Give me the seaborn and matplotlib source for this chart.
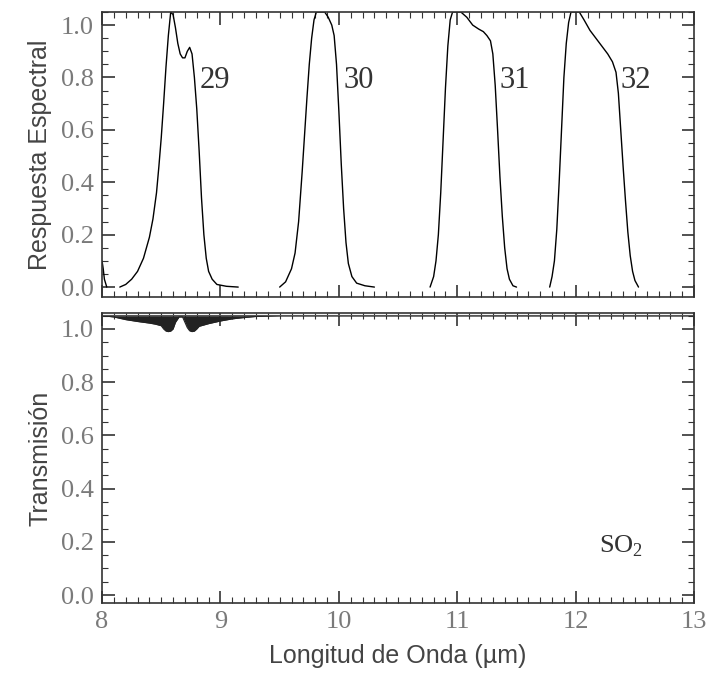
import matplotlib
matplotlib.use("Agg")
import matplotlib.pyplot as plt
from matplotlib.ticker import MultipleLocator
import seaborn as sns
import pandas as pd

# bandas MODIS 28-32, respuesta espectral
wl_28 = [8.0, 8.01, 8.02, 8.04]
resp_28 = [0.10, 0.07, 0.03, 0.0]

wl_29 = [8.15, 8.2, 8.25, 8.3, 8.35, 8.4, 8.43, 8.46, 8.48, 8.5, 8.52, 8.54, 8.56, 8.58,
         8.6, 8.62, 8.64, 8.66, 8.68, 8.7, 8.72, 8.74, 8.76, 8.78, 8.8, 8.82, 8.84,
         8.86, 8.88, 8.9, 8.93, 8.97, 9.05, 9.15]
resp_29 = [0.0, 0.01, 0.03, 0.06, 0.11, 0.19, 0.26, 0.36, 0.46, 0.57, 0.7, 0.84, 0.96, 1.05,
           1.04, 0.99, 0.93, 0.89, 0.875, 0.875, 0.9, 0.915, 0.89, 0.8, 0.68, 0.52, 0.34,
           0.2, 0.11, 0.06, 0.03, 0.01, 0.003, 0.0]

wl_30 = [9.5, 9.55, 9.6, 9.63, 9.66, 9.69, 9.71, 9.73, 9.75, 9.77, 9.79, 9.81, 9.88,
         9.91, 9.94, 9.96, 9.98, 10.0, 10.02, 10.04, 10.06, 10.08, 10.11, 10.15, 10.22, 10.3]
resp_30 = [0.0, 0.02, 0.07, 0.13, 0.25, 0.44, 0.58, 0.72, 0.85, 0.95, 1.02, 1.05, 1.05,
           1.03, 1.0, 0.96, 0.85, 0.67, 0.47, 0.3, 0.17, 0.09, 0.04, 0.015, 0.005, 0.0]

wl_31 = [10.77, 10.8, 10.82, 10.84, 10.86, 10.88, 10.9, 10.92, 10.94, 10.96, 11.03, 11.08,
         11.13, 11.18, 11.22, 11.25, 11.28, 11.3, 11.32, 11.34, 11.36, 11.38, 11.4, 11.42,
         11.44, 11.47, 11.5]
resp_31 = [0.0, 0.04, 0.1, 0.2, 0.36, 0.56, 0.76, 0.92, 1.02, 1.05, 1.05, 1.03,
           1.0, 0.985, 0.975, 0.96, 0.94, 0.89, 0.77, 0.6, 0.42, 0.27, 0.15, 0.07,
           0.03, 0.005, 0.0]

wl_32 = [11.78, 11.8, 11.82, 11.84, 11.86, 11.88, 11.9, 11.92, 11.94, 11.96, 12.03, 12.07,
         12.12, 12.17, 12.22, 12.27, 12.31, 12.34, 12.36, 12.38, 12.4, 12.42, 12.44, 12.46,
         12.48, 12.5, 12.53]
resp_32 = [0.0, 0.04, 0.1, 0.22, 0.4, 0.6, 0.8, 0.93, 1.01, 1.05, 1.05, 1.02,
           0.98, 0.95, 0.92, 0.89, 0.86, 0.82, 0.74, 0.6, 0.46, 0.33, 0.21, 0.12,
           0.06, 0.025, 0.0]

band_names = ["29", "30", "31", "32"]
label_x = [8.82, 10.04, 11.36, 12.38]
label_y = [0.79, 0.79, 0.79, 0.79]

# transmision SO2
wl_so2 = [8.0, 8.1, 8.2, 8.3, 8.4, 8.45, 8.5, 8.52, 8.54, 8.56, 8.58, 8.6, 8.62, 8.65,
          8.68, 8.7, 8.72, 8.74, 8.76, 8.78, 8.8, 8.82, 8.86, 8.9, 9.0, 9.1, 9.2, 9.3,
          9.5, 13.0]
trans_so2 = [1.05, 1.045, 1.035, 1.028, 1.022, 1.018, 1.012, 1.0, 0.992, 0.99, 0.992, 1.0,
             1.025, 1.045, 1.045, 1.025, 1.005, 0.993, 0.99, 0.992, 1.0, 1.01, 1.015,
             1.02, 1.03, 1.038, 1.043, 1.047, 1.049, 1.049]

sns.set_style("ticks")
plt.rcParams['font.family'] = ['Liberation Sans', 'DejaVu Sans']
plt.rcParams['mathtext.fontset'] = 'custom'
plt.rcParams['mathtext.rm'] = 'Liberation Serif'

fig = plt.figure(figsize=(7.1, 6.94), dpi=100)
ax1 = fig.add_axes([0.1437, 0.572, 0.834, 0.4107])
ax2 = fig.add_axes([0.1437, 0.1311, 0.834, 0.4179])

bands = [(wl_28, resp_28), (wl_29, resp_29), (wl_30, resp_30), (wl_31, resp_31), (wl_32, resp_32)]
for wl, resp in bands:
    df = pd.DataFrame({"wl": wl, "resp": resp})
    sns.lineplot(data=df, x="wl", y="resp", ax=ax1, color="black", lw=1.0)

for name, x, y in zip(band_names, label_x, label_y):
    ax1.text(x, y, name, fontsize=22, family="Liberation Serif", color="#333333",
             va="center", ha="left")

df_so2 = pd.DataFrame({"wl": wl_so2, "t": trans_so2})
ax2.fill_between(df_so2["wl"], df_so2["t"], 1.05, color="#222222", lw=0)
sns.lineplot(data=df_so2, x="wl", y="t", ax=ax2, color="#222222", lw=0.8)
ax2.axhline(1.052, color="#555555", lw=0.8)
ax2.text(12.2, 0.16, r"SO$_\mathrm{2}$", fontsize=19, family="Liberation Serif", color="#333333")

ax1.set_ylim(-0.038, 1.05)
ax2.set_ylim(-0.03, 1.06)

for ax in (ax1, ax2):
    ax.set_xlim(8, 13)
    ax.xaxis.set_major_locator(MultipleLocator(1))
    ax.xaxis.set_minor_locator(MultipleLocator(0.1))
    ax.yaxis.set_major_locator(MultipleLocator(0.2))
    ax.yaxis.set_minor_locator(MultipleLocator(0.05))
    ax.tick_params(which="both", direction="in", top=True, right=True, color="#333333")
    ax.tick_params(which="major", length=9, width=1.2)
    ax.tick_params(which="minor", length=4, width=0.8)
    ax.tick_params(axis="both", labelsize=19, labelcolor="#7a7a7a", pad=6)
    for lab in ax.get_xticklabels() + ax.get_yticklabels():
        lab.set_family("Liberation Serif")
    for s in ax.spines.values():
        s.set_linewidth(1.2)
        s.set_color("#333333")
    ax.set_xlabel("")
    ax.set_ylabel("")

ax1.tick_params(axis="x", labelbottom=False)
ax1.set_ylabel("Respuesta Espectral", fontsize=18, color="#444444", labelpad=6)
ax2.set_ylabel("Transmisión", fontsize=18, color="#444444", labelpad=6)
ax2.set_xlabel("Longitud de Onda (µm)", fontsize=18, color="#444444", labelpad=8)

fig.savefig("out.png", dpi=100)
